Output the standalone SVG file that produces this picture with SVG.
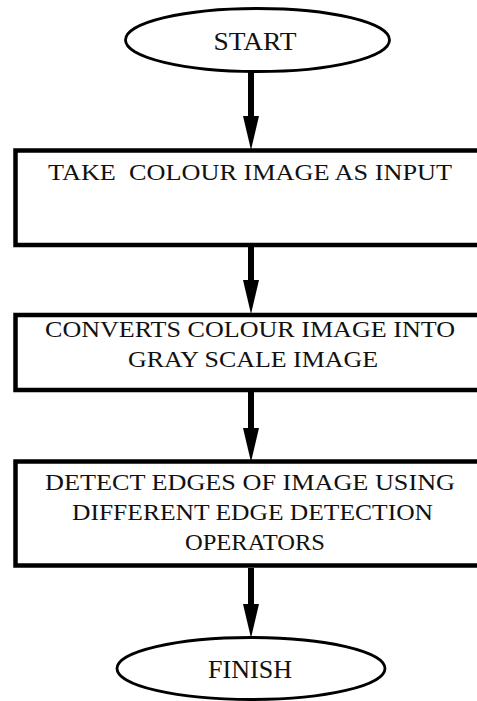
<svg xmlns="http://www.w3.org/2000/svg" width="477" height="701" viewBox="0 0 477 701">
  <style>
    .term { fill: #fff; stroke: #000; stroke-width: 2.8; }
    .step { fill: #fff; stroke: #000; stroke-width: 4.5; }
    .lbl { font-family: "Liberation Serif", "Times New Roman", serif; fill: #111; text-anchor: middle; }
    .t-term { font-size: 26px; }
    .t-step { font-size: 24px; }
    .flow { stroke: #000; stroke-width: 6; fill: none; }
  </style>
  <defs>
    <marker id="head" markerUnits="userSpaceOnUse" viewBox="0 0 34 16" markerWidth="34" markerHeight="16" refX="0" refY="8" orient="auto">
      <path d="M0,0 L34,8 L0,16 z" fill="#000"/>
    </marker>
  </defs>
  <rect width="477" height="701" fill="#fff"/>

  <!-- connectors -->
  <g id="connectors">
    <line class="flow" x1="251" y1="72" x2="251" y2="116" marker-end="url(#head)"/>
    <line class="flow" x1="251" y1="247" x2="251" y2="280" marker-end="url(#head)"/>
    <line class="flow" x1="251" y1="392" x2="251" y2="428" marker-end="url(#head)"/>
    <line class="flow" x1="251" y1="568" x2="251" y2="604" marker-end="url(#head)"/>
  </g>

  <g id="start">
    <ellipse class="term" cx="257.5" cy="40" rx="132" ry="31.5"/>
    <text class="lbl t-term" x="255" y="50" textLength="83" lengthAdjust="spacingAndGlyphs">START</text>
  </g>

  <g id="take-input">
    <rect class="step" x="15.5" y="150.5" width="475" height="94.5"/>
    <text class="lbl t-step" x="250" y="180" textLength="404" lengthAdjust="spacingAndGlyphs" xml:space="preserve">TAKE  COLOUR IMAGE AS INPUT</text>
  </g>

  <g id="to-grayscale">
    <rect class="step" x="15.5" y="315" width="475" height="75"/>
    <text class="lbl t-step" x="250" y="337" textLength="410" lengthAdjust="spacingAndGlyphs">CONVERTS COLOUR IMAGE INTO</text>
    <text class="lbl t-step" x="253" y="367" textLength="250" lengthAdjust="spacingAndGlyphs">GRAY SCALE IMAGE</text>
  </g>

  <g id="detect-edges">
    <rect class="step" x="15.5" y="461.5" width="475" height="104"/>
    <text class="lbl t-step" x="250" y="490" textLength="410" lengthAdjust="spacingAndGlyphs">DETECT EDGES OF IMAGE USING</text>
    <text class="lbl t-step" x="252.5" y="520" textLength="361" lengthAdjust="spacingAndGlyphs">DIFFERENT EDGE DETECTION</text>
    <text class="lbl t-step" x="255" y="550" textLength="140" lengthAdjust="spacingAndGlyphs">OPERATORS</text>
  </g>

  <g id="finish">
    <ellipse class="term" cx="251" cy="668.5" rx="134" ry="31"/>
    <text class="lbl t-term" x="250" y="678" textLength="84" lengthAdjust="spacingAndGlyphs">FINISH</text>
  </g>
</svg>
